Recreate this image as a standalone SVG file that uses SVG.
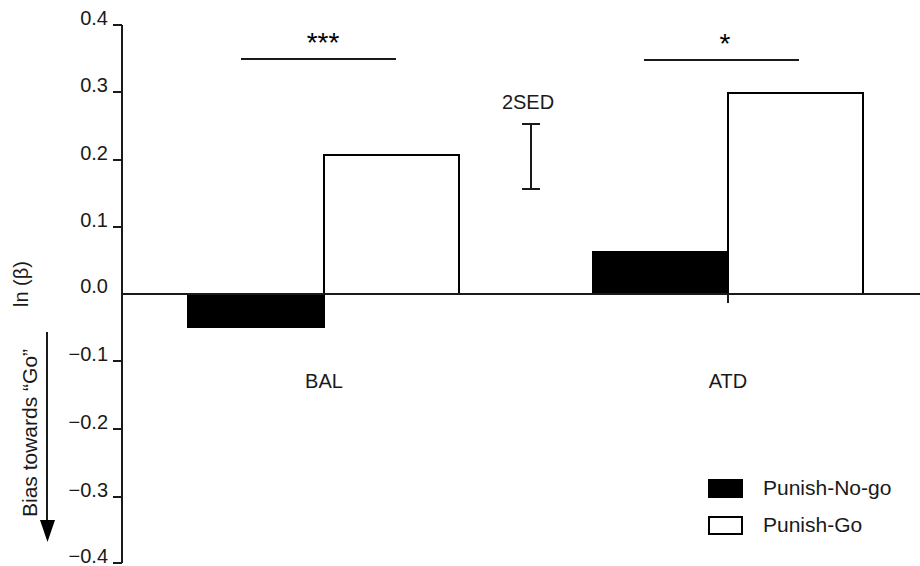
<svg xmlns="http://www.w3.org/2000/svg" width="920" height="566" viewBox="0 0 920 566">
<style>
text{font-family:"Liberation Sans",Arial,sans-serif;font-size:20px;fill:#1a1a1a}
.tl{text-anchor:end}
.mid{text-anchor:middle}
.big{font-size:21px}
.ax{stroke:#1a1a1a;stroke-width:2;fill:none}
.blk{fill:#000;stroke:#000;stroke-width:2}
.wht{fill:#fff;stroke:#000;stroke-width:2}
.star{font-size:28px;text-anchor:middle;fill:#000}
</style>
<rect width="920" height="566" fill="#fff"/>
<g id="axis">
<path class="ax" d="M122 25V563M113 25H122M113 92H122M113 160H122M113 227H122M113 361H122M113 429H122M113 497H122M113 563H122"/>
<text class="tl" x="108" y="25">0.4</text>
<text class="tl" x="108" y="92">0.3</text>
<text class="tl" x="108" y="160">0.2</text>
<text class="tl" x="108" y="227">0.1</text>
<text class="tl" x="108" y="293">0.0</text>
<text class="tl" x="108" y="361">−0.1</text>
<text class="tl" x="108" y="429">−0.2</text>
<text class="tl" x="108" y="497">−0.3</text>
<text class="tl" x="108" y="563">−0.4</text>
<text transform="translate(28,307) rotate(-90)">ln (β)</text>
<text class="big" transform="translate(37,517) rotate(-90)">Bias towards “Go”</text>
<path class="ax" d="M47 332V522"/>
<polygon points="40,520 55,520 47.5,542" fill="#000"/>
</g>
<g id="bal">
<rect class="blk" x="188" y="294" width="136" height="33"/>
<rect class="wht" x="324" y="155" width="135" height="139"/>
<text class="mid" x="324" y="388">BAL</text>
</g>
<g id="atd">
<rect class="blk" x="593" y="252" width="135" height="42"/>
<rect class="wht" x="728" y="93" width="135" height="201"/>
<text class="mid" x="728" y="388">ATD</text>
</g>
<g id="connectors">
<path class="ax" d="M122 294H920M728 294V303"/>
<path class="ax" d="M241 59H396M644 60H799"/>
<path class="ax" d="M531 124V189M522 124H540M522 189H540"/>
</g>
<g id="sig-bal"><text class="star" x="323" y="52">***</text></g>
<g id="sig-atd"><text class="star" x="725" y="53">*</text></g>
<g id="sed"><text class="mid" x="528" y="109">2SED</text></g>
<g id="legend">
<rect class="blk" x="709" y="480" width="33" height="17"/>
<rect class="wht" x="709" y="517" width="33" height="17"/>
<text class="big" x="763" y="495">Punish-No-go</text>
<text class="big" x="763" y="532">Punish-Go</text>
</g>
</svg>
